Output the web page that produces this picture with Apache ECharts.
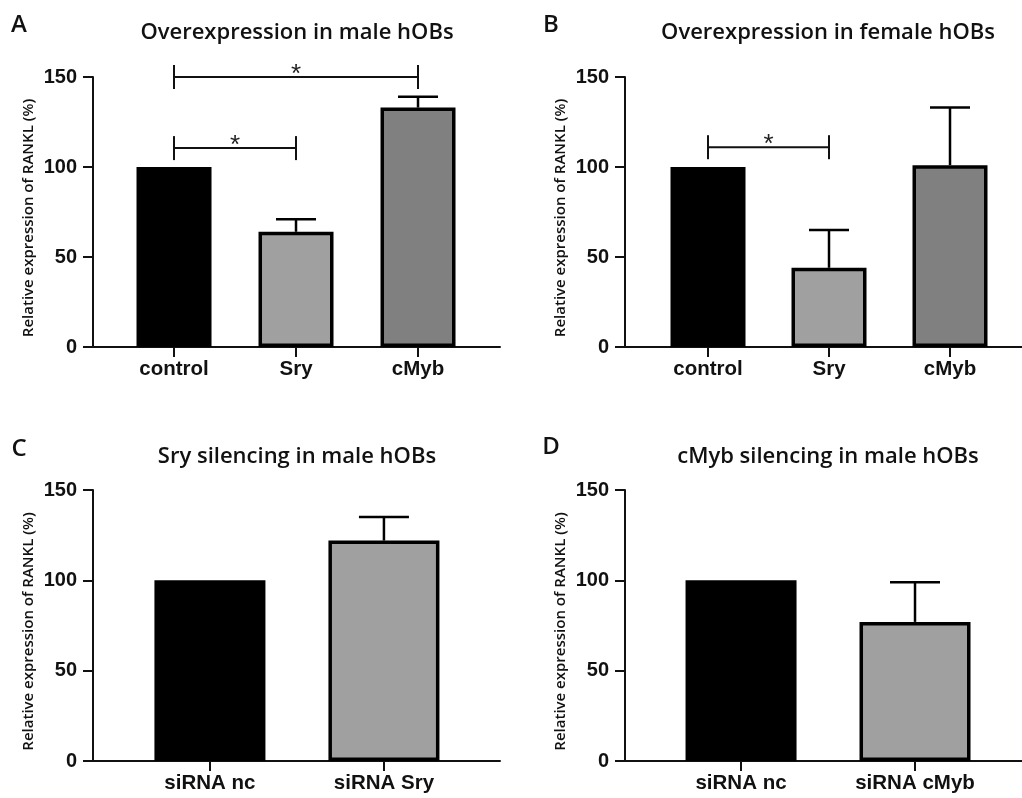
<!DOCTYPE html>
<html><head><meta charset="utf-8">
<script src="https://cdn.jsdelivr.net/npm/echarts@6/dist/echarts.min.js"></script>
<style>html,body{margin:0;padding:0;background:#fff}#c{width:1022px;height:798px}</style>
</head><body><div id="c"></div><script>
// ---- data ----
const catsA = ['control', 'Sry', 'cMyb'];
const meanA = [100, 64, 133];
const semA  = [0, 7, 6];
const catsB = ['control', 'Sry', 'cMyb'];
const meanB = [100, 44, 101];
const semB  = [0, 21, 32];
const catsC = ['siRNA nc', 'siRNA Sry'];
const meanC = [100, 122];
const semC  = [0, 13];
const catsD = ['siRNA nc', 'siRNA cMyb'];
const meanD = [100, 77];
const semD  = [0, 22];
// significance brackets: [from index, to index, height (%)]
const sigA = [[0, 1, 110.5], [0, 2, 150]];
const sigB = [[0, 1, 111]];
const sigC = [];
const sigD = [];
const yTicks = [0, 50, 100, 150];
const titleTexts = ['Overexpression in male hOBs', 'Overexpression in female hOBs',
                    'Sry silencing in male hOBs', 'cMyb silencing in male hOBs'];
const letters = ['A', 'B', 'C', 'D'];
const yName = 'Relative expression of RANKL (%)';
const fills3 = ['#000000', '#a0a0a0', '#808080'];
const fills2 = ['#000000', '#a0a0a0'];

// ---- layout (styles only) ----
const panels = [
  {cats: catsA, mean: meanA, sem: semA, sig: sigA, fills: fills3,
   grid: {left: 93, top: 77, width: 407, height: 270}, xmin: -0.664, xmax: 2.672,
   barW: 75, cap: 20, title: [297, 33], letter: [19, 25]},
  {cats: catsB, mean: meanB, sem: semB, sig: sigB, fills: fills3,
   grid: {left: 625, top: 77, width: 397, height: 270}, xmin: -0.686, xmax: 2.595,
   barW: 75, cap: 20, title: [828, 33], letter: [551, 25]},
  {cats: catsC, mean: meanC, sem: semC, sig: sigC, fills: fills2,
   grid: {left: 93, top: 490, width: 407, height: 271}, xmin: -0.672, xmax: 1.667,
   barW: 111, cap: 25, title: [297, 457], letter: [19, 449]},
  {cats: catsD, mean: meanD, sem: semD, sig: sigD, fills: fills2,
   grid: {left: 625, top: 490, width: 397, height: 271}, xmin: -0.667, xmax: 1.615,
   barW: 111, cap: 25, title: [828, 457], letter: [551, 447]}
];

const ink = '#111111';
const option = {
  animation: false,
  backgroundColor: '#ffffff',
  title: [], grid: [], xAxis: [], yAxis: [], series: []
};

panels.forEach((p, i) => {
  option.title.push({
    text: titleTexts[i], left: p.title[0], top: p.title[1] - 12, textAlign: 'center', padding: 0,
    textStyle: {fontFamily: 'Open Sans', fontWeight: 600, fontSize: 22, color: ink, lineHeight: 24}
  });
  option.title.push({
    text: letters[i], left: p.letter[0], top: p.letter[1] - 12, textAlign: 'center', padding: 0,
    textStyle: {fontFamily: 'Open Sans', fontWeight: 600, fontSize: 24, color: ink, lineHeight: 24}
  });
  option.grid.push(Object.assign({containLabel: false}, p.grid));
  const idx = p.cats.map((c, k) => k);
  option.xAxis.push({
    type: 'value', gridIndex: i, min: p.xmin, max: p.xmax,
    splitLine: {show: false},
    axisLine: {show: true, onZero: false, lineStyle: {color: ink, width: 2}},
    axisTick: {show: true, customValues: idx, length: 10, lineStyle: {color: ink, width: 2}},
    axisLabel: {show: true, customValues: idx, margin: 12,
      formatter: v => p.cats[Math.round(v)] || '',
      fontFamily: 'Liberation Sans', fontWeight: 'bold', fontSize: 20.5, color: ink}
  });
  option.yAxis.push({
    type: 'value', gridIndex: i, min: yTicks[0], max: yTicks[yTicks.length - 1],
    interval: yTicks[1] - yTicks[0],
    splitLine: {show: false},
    axisLine: {show: true, onZero: false, lineStyle: {color: ink, width: 2}},
    axisTick: {show: true, length: 10, lineStyle: {color: ink, width: 2}},
    axisLabel: {margin: 16, fontFamily: 'Liberation Sans', fontWeight: 'bold', fontSize: 20, color: ink},
    name: yName, nameLocation: 'middle', nameRotate: 90, nameGap: 57,
    nameTextStyle: {fontFamily: 'Open Sans', fontWeight: 600, fontSize: 15, color: ink,
      padding: [0, 12, 0, 0]}
  });
  option.series.push({
    type: 'bar', xAxisIndex: i, yAxisIndex: i, barWidth: p.barW, z: 2,
    data: p.mean.map((m, k) => ({value: [k, m],
      itemStyle: {color: p.fills[k], borderColor: '#000', borderWidth: 3.5}}))
  });
  const cap = p.cap;
  option.series.push({
    type: 'custom', xAxisIndex: i, yAxisIndex: i, z: 3,
    data: p.mean.map((m, k) => [k, m, m + p.sem[k]]).filter((d, k) => p.sem[k] > 0),
    encode: {x: 0, y: [1, 2]},
    renderItem: (params, api) => {
      const a = api.coord([api.value(0), api.value(1)]);
      const b = api.coord([api.value(0), api.value(2)]);
      const st = {stroke: '#000', lineWidth: 2.5};
      return {type: 'group', children: [
        {type: 'line', shape: {x1: a[0], y1: a[1], x2: b[0], y2: b[1]}, style: st},
        {type: 'line', shape: {x1: b[0] - cap, y1: b[1], x2: b[0] + cap, y2: b[1]}, style: st}
      ]};
    }
  });
  if (p.sig.length) {
    option.series.push({
      type: 'custom', xAxisIndex: i, yAxisIndex: i, z: 4,
      data: p.sig,
      encode: {x: [0, 1], y: 2},
      renderItem: (params, api) => {
        const a = api.coord([api.value(0), api.value(2)]);
        const b = api.coord([api.value(1), api.value(2)]);
        const st = {stroke: '#111', lineWidth: 2};
        return {type: 'group', children: [
          {type: 'line', shape: {x1: a[0], y1: a[1], x2: b[0], y2: b[1]}, style: st},
          {type: 'line', shape: {x1: a[0], y1: a[1] - 12, x2: a[0], y2: a[1] + 12}, style: st},
          {type: 'line', shape: {x1: b[0], y1: b[1] - 12, x2: b[0], y2: b[1] + 12}, style: st},
          {type: 'text', style: {text: '*', x: (a[0] + b[0]) / 2, y: a[1] - 2,
            align: 'center', verticalAlign: 'middle',
            font: '26px "Liberation Sans"', fill: '#222'}}
        ]};
      }
    });
  }
});

const chart = echarts.init(document.getElementById('c'), null, {renderer: 'canvas'});
chart.setOption(option);
</script></body></html>
